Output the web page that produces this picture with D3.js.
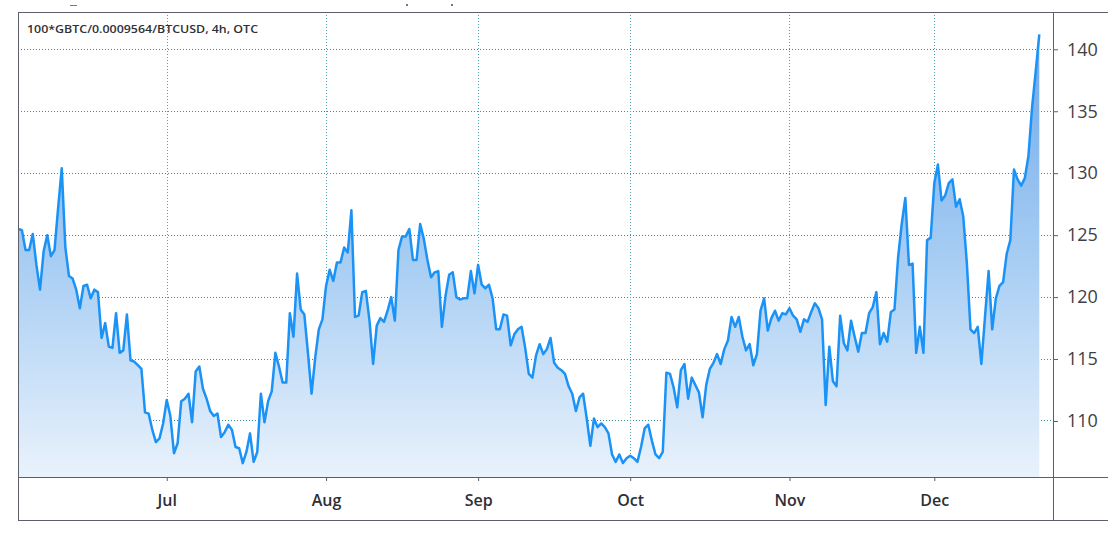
<!DOCTYPE html>
<html><head><meta charset="utf-8">
<script src="https://cdn.jsdelivr.net/npm/d3@7"></script>
<style>html,body{margin:0;padding:0;background:#fff;} svg{display:block;}</style>
</head><body><svg id="c" width="1114" height="533"></svg>
<script>
const title = "100*GBTC/0.0009564/BTCUSD, 4h, OTC";
const values = [
125.5,125.4,123.8,123.8,125.1,122.6,120.6,123.7,125.0,123.3,
123.8,127.2,130.4,124.0,121.7,121.5,120.6,119.1,120.9,121.0,
119.9,120.6,120.4,116.7,117.9,116.0,115.9,118.7,115.5,115.7,
118.6,114.9,114.8,114.5,114.2,110.7,110.6,109.3,108.3,108.6,
109.8,111.7,110.4,107.4,108.2,111.6,111.8,112.2,109.9,114.0,
114.4,112.6,111.8,110.8,110.4,110.6,108.7,109.1,109.7,109.3,
107.9,107.8,106.6,107.5,109.0,106.7,107.5,112.2,109.9,111.6,
112.4,115.5,114.4,113.1,113.1,118.7,116.8,121.9,119.0,118.6,
115.5,112.2,115.1,117.4,118.2,120.9,122.2,121.3,122.8,122.8,
124.0,123.6,127.0,118.4,118.5,120.4,120.5,118.1,114.6,117.7,
118.3,118.0,118.9,120.0,118.1,123.8,124.9,124.9,125.5,123.0,
123.0,125.9,124.7,123.0,121.6,122.0,122.1,117.6,120.1,121.8,
122.0,120.0,119.8,119.9,119.9,122.1,120.3,122.6,121.0,120.7,
121.0,119.9,117.4,117.4,118.6,118.5,116.1,117.0,117.4,117.6,
115.9,113.8,113.5,115.3,116.2,115.4,115.8,116.7,114.7,114.3,
114.1,113.8,112.8,112.2,110.8,111.9,112.2,110.2,108.0,110.2,
109.5,109.8,109.5,109.0,107.3,106.7,107.3,106.6,107.0,107.2,
107.0,106.7,107.9,109.4,109.7,108.4,107.3,107.0,107.5,113.9,
113.8,112.7,111.1,114.1,114.6,111.8,113.5,112.9,112.3,110.3,
112.9,114.2,114.7,115.4,114.6,115.8,116.5,118.4,117.6,118.4,
116.8,115.7,116.2,114.5,115.4,118.9,119.9,117.3,118.3,118.9,
118.1,118.7,118.6,119.1,118.5,118.2,117.2,118.2,118.0,118.8,
119.5,119.1,118.2,111.3,116.0,113.2,112.8,118.5,116.3,115.7,
118.1,116.8,115.6,117.1,117.1,118.7,119.2,120.4,116.2,117.1,
116.4,118.8,119.0,123.2,125.9,128.0,122.6,122.7,115.5,117.6,
115.5,124.6,124.8,129.2,130.7,127.8,128.2,129.2,129.5,127.3,
127.9,126.5,122.7,117.4,117.1,117.6,114.6,118.4,122.1,117.4,
119.9,120.9,121.2,123.5,124.6,130.3,129.5,129.0,129.6,131.4,
135.3,138.2,141.2
];
const monthLabels = ["Jul","Aug","Sep","Oct","Nov","Dec"];
const monthIndex = [41,85,127,169,213,253];
const yTicks = [110,115,120,125,130,135,140];

const svg = d3.select("#c");
const L = 18, R = 1053, T = 12, B = 477, BB = 520, FR = 1108;

const x = d3.scaleLinear().domain([0, values.length - 1]).range([18.3, 1039.3]);
const y = d3.scaleLinear().domain([105.48, 143.01]).range([B, T]);

const defs = svg.append("defs");
const grad = defs.append("linearGradient").attr("id","g")
  .attr("gradientUnits","userSpaceOnUse").attr("x1",0).attr("x2",0).attr("y1",35).attr("y2",B);
grad.append("stop").attr("offset","0%").attr("stop-color","#6ea8ea");
grad.append("stop").attr("offset","55%").attr("stop-color","#acd0f4");
grad.append("stop").attr("offset","100%").attr("stop-color","#e9f2fc");

// grid
const grid = svg.append("g");
grid.selectAll(".hg").data(yTicks).join("line")
  .attr("x1", L).attr("x2", R).attr("y1", d => y(d)).attr("y2", d => y(d))
  .attr("stroke", "#2f8f96").attr("stroke-width", 1).attr("stroke-dasharray", "1,2")
  .attr("shape-rendering","crispEdges");
grid.selectAll(".vg").data(monthIndex).join("line")
  .attr("x1", d => Math.round(x(d)) + 0.5).attr("x2", d => Math.round(x(d)) + 0.5)
  .attr("y1", T).attr("y2", B)
  .attr("stroke", "#4fa4aa").attr("stroke-width", 1).attr("stroke-dasharray", "1,2");

// area + line
const area = d3.area().x((d,i) => x(i)).y0(B).y1(d => y(d));
const line = d3.line().x((d,i) => x(i)).y(d => y(d));
svg.append("path").datum(values).attr("d", area).attr("fill", "url(#g)");
svg.append("path").datum(values).attr("d", line).attr("fill","none")
  .attr("stroke","#1b92f5").attr("stroke-width",2.5).attr("stroke-linejoin","round");

// frame
const fc = "#5d606b";
const frame = svg.append("g").attr("stroke", fc).attr("stroke-width",1).attr("shape-rendering","crispEdges");
frame.append("line").attr("x1",L).attr("x2",FR).attr("y1",T+0.5).attr("y2",T+0.5);
frame.append("line").attr("x1",L).attr("x2",FR).attr("y1",B+0.5).attr("y2",B+0.5);
frame.append("line").attr("x1",L).attr("x2",FR).attr("y1",BB+0.5).attr("y2",BB+0.5);
frame.append("line").attr("x1",L+0.5).attr("x2",L+0.5).attr("y1",T).attr("y2",BB);
frame.append("line").attr("x1",R+0.5).attr("x2",R+0.5).attr("y1",T).attr("y2",BB);

// y axis
const ya = svg.append("g").attr("transform",`translate(${R},0)`)
  .call(d3.axisRight(y).tickValues(yTicks).tickSize(5).tickPadding(9));
ya.select(".domain").remove();
ya.selectAll(".tick line").attr("stroke", fc);
ya.selectAll("text").attr("font-family","'Open Sans', 'Noto Sans', sans-serif")
  .attr("font-size","18px").attr("fill","#3f4046");

// x axis
const xa = svg.append("g").attr("transform",`translate(0,${B})`)
  .call(d3.axisBottom(x).tickValues(monthIndex).tickSize(4).tickPadding(14)
    .tickFormat((d,i) => monthLabels[i]));
xa.select(".domain").remove();
xa.selectAll(".tick line").attr("stroke", fc);
xa.selectAll("text").attr("font-family","'Open Sans', 'Noto Sans', sans-serif")
  .attr("font-size","16px").attr("font-weight",600).attr("fill","#2e2f35");

// title
svg.append("text").attr("x",27).attr("y",33).text(title)
  .attr("font-family","'Open Sans', 'Noto Sans', sans-serif").attr("font-size","11px")
  .attr("font-weight",600).attr("fill","#2f3036").attr("textLength",231).attr("lengthAdjust","spacingAndGlyphs");

// cropped marks at the very top
const topMarks = svg.append("g").attr("fill","#777");
topMarks.append("rect").attr("x",70).attr("y",5).attr("width",7).attr("height",1);
topMarks.append("rect").attr("x",406).attr("y",4).attr("width",2).attr("height",2);
topMarks.append("rect").attr("x",451).attr("y",4).attr("width",2).attr("height",2);
</script></body></html>
